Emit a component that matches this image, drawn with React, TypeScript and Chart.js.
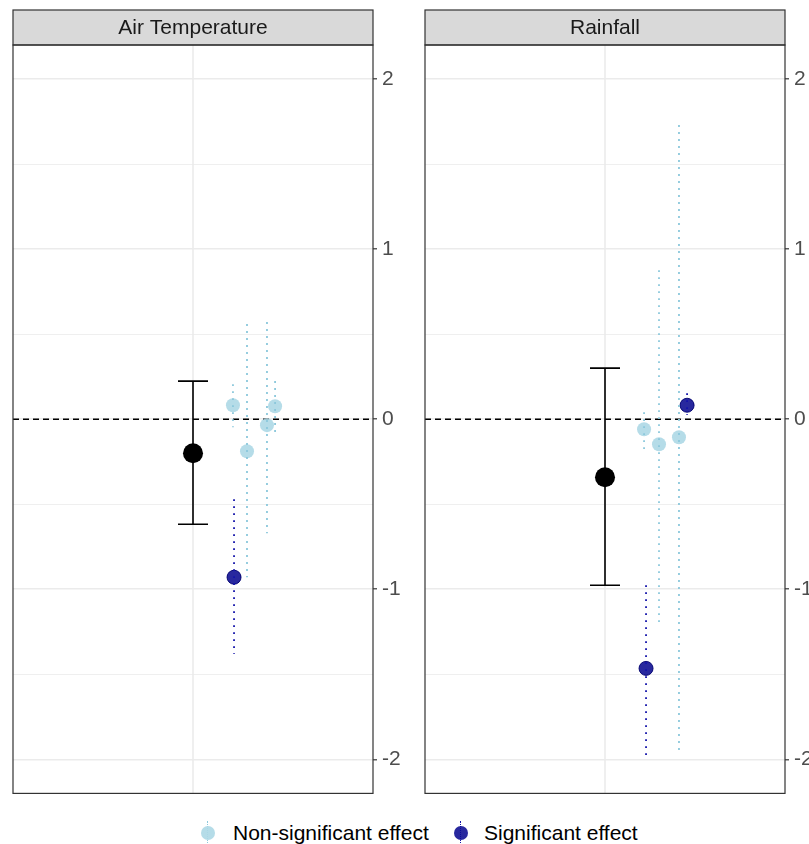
import React, { useEffect, useRef } from "react";
import { Chart, registerables } from "chart.js";
Chart.register(...registerables);

// ---- data ----
const yTicks = [-2, -1.5, -1, -0.5, 0, 0.5, 1, 1.5, 2];
const panelTitles = ["Air Temperature", "Rainfall"];
const legendLabels = ["Non-significant effect", "Significant effect"];

// Air temperature
const airPooledY = [-0.2];
const airPooledLo = [-0.618];
const airPooledHi = [0.224];
const airNonSigX = [0.222, 0.3, 0.411, 0.456];
const airNonSigY = [0.082, -0.188, -0.035, 0.076];
const airNonSigLo = [-0.047, -0.929, -0.671, -0.076];
const airNonSigHi = [0.206, 0.559, 0.571, 0.224];
const airSigX = [0.228];
const airSigY = [-0.929];
const airSigLo = [-1.38];
const airSigHi = [-0.47];

// Rainfall
const rainPooledY = [-0.341];
const rainPooledLo = [-0.976];
const rainPooledHi = [0.3];
const rainNonSigX = [0.217, 0.3, 0.411];
const rainNonSigY = [-0.059, -0.147, -0.106];
const rainNonSigLo = [-0.176, -1.194, -1.959];
const rainNonSigHi = [0.041, 0.876, 1.729];
const rainSigX = [0.228, 0.456];
const rainSigY = [-1.465, 0.082];
const rainSigLo = [-1.976, 0.024];
const rainSigHi = [-0.976, 0.153];

const LIGHT = "rgba(173,216,230,0.9)";
const LIGHT_LINE = "rgba(140,200,220,1)";
const DARK = "rgba(10,10,145,0.88)";
const DARK_LINE = "rgba(20,20,170,1)";
const FONT = "'Liberation Sans', Arial, sans-serif";
const FS = 21;

const panelPlugin = {
  id: "panelDecor",
  beforeDatasetsDraw(chart: any) {
    const { ctx, chartArea: a, scales } = chart;
    const xs = scales.x, ys = scales.y;
    ctx.save();
    ctx.strokeStyle = "#EBEBEB";
    ctx.lineWidth = 1.6;
    const cx = xs.getPixelForValue(0);
    ctx.beginPath();
    ctx.moveTo(cx, a.top);
    ctx.lineTo(cx, a.bottom);
    ctx.stroke();
    const zy = ys.getPixelForValue(0);
    ctx.strokeStyle = "#000";
    ctx.lineWidth = 1.5;
    ctx.setLineDash([6, 4]);
    ctx.beginPath();
    ctx.moveTo(a.left, zy);
    ctx.lineTo(a.right, zy);
    ctx.stroke();
    ctx.setLineDash([]);
    chart.data.datasets.forEach((ds: any) => {
      if (ds.errStyle !== "solid") return;
      ds.data.forEach((p: any, i: number) => {
        const px = xs.getPixelForValue(p.x);
        const t = ys.getPixelForValue(ds.errHi[i]);
        const b = ys.getPixelForValue(ds.errLo[i]);
        ctx.strokeStyle = "#000";
        ctx.lineWidth = 1.6;
        ctx.beginPath();
        ctx.moveTo(px, t);
        ctx.lineTo(px, b);
        ctx.moveTo(px - 15, t);
        ctx.lineTo(px + 15, t);
        ctx.moveTo(px - 15, b);
        ctx.lineTo(px + 15, b);
        ctx.stroke();
      });
    });
    ctx.restore();
  },
  afterDatasetsDraw(chart: any) {
    const { ctx, scales } = chart;
    const xs = scales.x, ys = scales.y;
    ctx.save();
    chart.data.datasets.forEach((ds: any) => {
      if (ds.errStyle !== "dotted") return;
      ds.data.forEach((p: any, i: number) => {
        const px = xs.getPixelForValue(p.x);
        const t = ys.getPixelForValue(ds.errHi[i]);
        const b = ys.getPixelForValue(ds.errLo[i]);
        ctx.strokeStyle = ds.errColor;
        ctx.lineWidth = 1.8;
        ctx.setLineDash([1.8, 5.2]);
        ctx.beginPath();
        ctx.moveTo(px, t);
        ctx.lineTo(px, b);
        ctx.stroke();
      });
    });
    ctx.restore();
  },
  afterDraw(chart: any, _args: any, opts: any) {
    const { ctx, chartArea: a } = chart;
    ctx.save();
    const sTop = a.top - 35;
    ctx.fillStyle = "#D9D9D9";
    ctx.fillRect(a.left, sTop, a.right - a.left, 35);
    ctx.strokeStyle = "#333333";
    ctx.lineWidth = 1.2;
    ctx.strokeRect(a.left, sTop, a.right - a.left, 35);
    ctx.fillStyle = "#1A1A1A";
    ctx.font = `${FS}px ${FONT}`;
    ctx.textAlign = "center";
    ctx.textBaseline = "middle";
    ctx.fillText(opts.title, (a.left + a.right) / 2, sTop + 18);
    ctx.strokeRect(a.left, a.top, a.right - a.left, a.bottom - a.top);
    ctx.restore();
  },
};

function makeConfig(
  title: string,
  pooledY: number[], pooledLo: number[], pooledHi: number[],
  nsX: number[], nsY: number[], nsLo: number[], nsHi: number[],
  sX: number[], sY: number[], sLo: number[], sHi: number[]
): any {
  return {
    type: "scatter",
    data: {
      datasets: [
        {
          label: "pooled",
          data: pooledY.map((y) => ({ x: 0, y })),
          errLo: pooledLo, errHi: pooledHi, errStyle: "solid",
          pointRadius: 10, backgroundColor: "#000", borderColor: "#000", borderWidth: 0,
        },
        {
          label: legendLabels[0],
          data: nsX.map((x, i) => ({ x, y: nsY[i] })),
          errLo: nsLo, errHi: nsHi, errStyle: "dotted", errColor: LIGHT_LINE,
          pointRadius: 7, backgroundColor: LIGHT, borderColor: LIGHT, borderWidth: 0,
        },
        {
          label: legendLabels[1],
          data: sX.map((x, i) => ({ x, y: sY[i] })),
          errLo: sLo, errHi: sHi, errStyle: "dotted", errColor: DARK_LINE,
          pointRadius: 7, backgroundColor: DARK, borderColor: "rgba(0,0,110,0.9)", borderWidth: 1,
        },
      ],
    },
    options: {
      responsive: false,
      animation: false,
      events: [],
      layout: { padding: { left: 13, top: 45, right: 0, bottom: 7 } },
      plugins: {
        legend: { display: false },
        tooltip: { enabled: false },
        panelDecor: { title },
      },
      scales: {
        x: { type: "linear", min: -1, max: 1, display: false },
        y: {
          type: "linear",
          position: "right",
          min: -2.2,
          max: 2.2,
          afterBuildTicks: (scale: any) => {
            scale.ticks = yTicks.map((v) => ({ value: v }));
          },
          afterFit: (scale: any) => {
            scale.width = 39;
          },
          border: { display: false },
          grid: {
            color: "#EBEBEB",
            lineWidth: (c: any) => (c.tick && Number.isInteger(c.tick.value) ? 1.6 : 0.8),
            tickColor: (c: any) => (c.tick && Number.isInteger(c.tick.value) ? "#333333" : "rgba(0,0,0,0)"),
            tickWidth: 1.2,
            tickLength: 4,
          },
          ticks: {
            autoSkip: false,
            padding: 5,
            color: "#4D4D4D",
            font: { family: FONT, size: FS },
            callback: (v: any) => (Number.isInteger(v) ? String(v) : ""),
          },
        },
      },
    },
    plugins: [panelPlugin],
  };
}

function Panel({ config, left }: { config: any; left: number }) {
  const ref = useRef<HTMLCanvasElement>(null);
  useEffect(() => {
    if (!ref.current) return;
    const ch = new Chart(ref.current, config);
    return () => ch.destroy();
  }, [config]);
  return (
    <canvas
      ref={ref}
      width={412}
      height={811}
      style={{ position: "absolute", left, top: 0, width: 412, height: 811 }}
    />
  );
}

const airConfig = makeConfig(
  panelTitles[0], airPooledY, airPooledLo, airPooledHi,
  airNonSigX, airNonSigY, airNonSigLo, airNonSigHi,
  airSigX, airSigY, airSigLo, airSigHi
);
const rainConfig = makeConfig(
  panelTitles[1], rainPooledY, rainPooledLo, rainPooledHi,
  rainNonSigX, rainNonSigY, rainNonSigLo, rainNonSigHi,
  rainSigX, rainSigY, rainSigLo, rainSigHi
);

function LegendKey({ cx, fill, line }: { cx: number; fill: string; line: string }) {
  return (
    <>
      <div
        style={{
          position: "absolute", left: cx - 1, top: 821, width: 0, height: 24,
          borderLeft: `1.5px dotted ${line}`,
        }}
      />
      <div
        style={{
          position: "absolute", left: cx - 7, top: 826, width: 14, height: 14,
          borderRadius: "50%", background: fill,
        }}
      />
    </>
  );
}

export default function App() {
  return (
    <div
      style={{
        position: "absolute", left: 0, top: 0, width: 809, height: 844,
        overflow: "hidden", background: "#fff", fontFamily: FONT,
      }}
    >
      <Panel config={airConfig} left={0} />
      <Panel config={rainConfig} left={412} />
      <LegendKey cx={208} fill={LIGHT} line={LIGHT_LINE} />
      <div style={{ position: "absolute", left: 233, top: 821, fontSize: FS, lineHeight: "24px", color: "#000", whiteSpace: "nowrap" }}>
        {legendLabels[0]}
      </div>
      <LegendKey cx={461} fill={DARK} line={DARK_LINE} />
      <div style={{ position: "absolute", left: 484, top: 821, fontSize: FS, lineHeight: "24px", color: "#000", whiteSpace: "nowrap" }}>
        {legendLabels[1]}
      </div>
    </div>
  );
}
